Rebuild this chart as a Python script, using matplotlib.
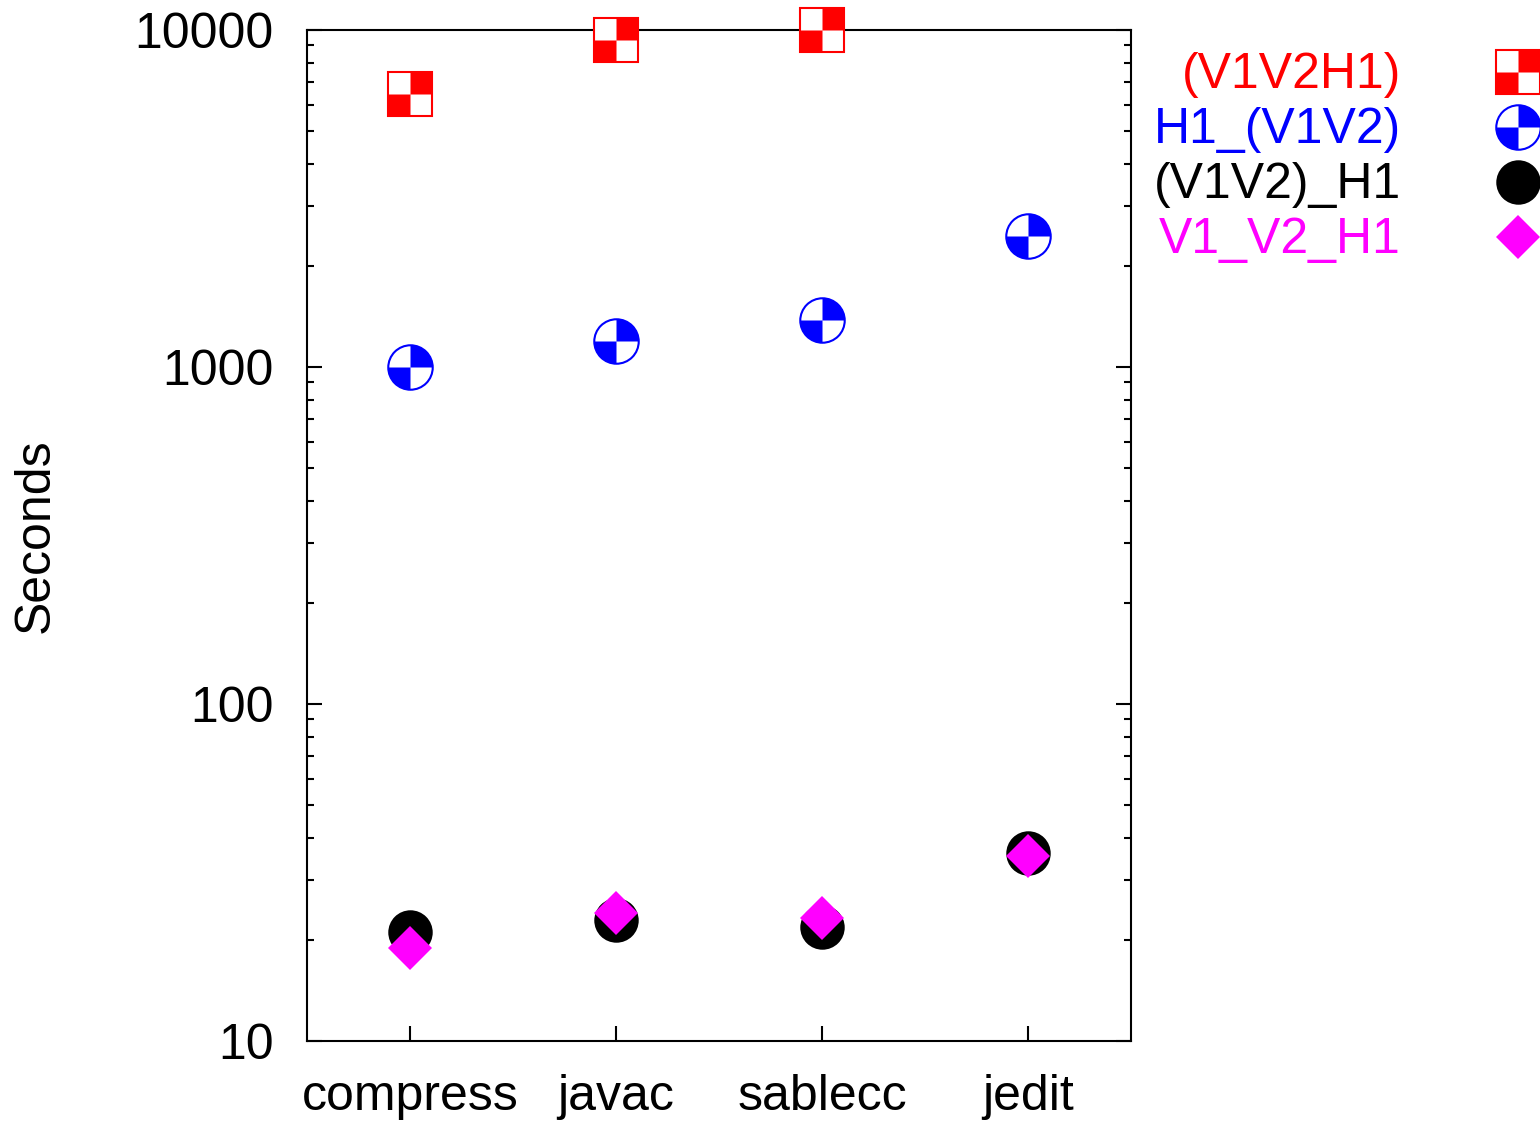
import matplotlib
matplotlib.use("Agg")
import matplotlib.pyplot as plt
from matplotlib.path import Path
from matplotlib.lines import Line2D
from matplotlib import ticker

plt.rcParams['font.family'] = ['Liberation Sans', 'DejaVu Sans']

benchmarks = ['compress', 'javac', 'sablecc', 'jedit']
v1v2h1 = [6450, 9340, 10000, None]
h1_v1v2 = [1000, 1194, 1377, 2448]
v1v2_h1 = [21.0, 22.9, 21.8, 36.2]
v1_v2_h1 = [18.9, 24.0, 23.2, 35.4]

labels = ['(V1V2H1)', 'H1_(V1V2)', '(V1V2)_H1', 'V1_V2_H1']
yticks = [10, 100, 1000, 10000]

# quarter-filled markers (top-right + bottom-left)
sq_quarters = Path.make_compound_path(
    Path([(0, 0), (1, 0), (1, 1), (0, 1), (0, 0)], closed=True),
    Path([(-1, -1), (0, -1), (0, 0), (-1, 0), (-1, -1)], closed=True))
circ_quarters = Path.make_compound_path(Path.wedge(0, 90), Path.wedge(180, 270))

MS = 32
styles = [
    dict(base=dict(marker='s', ms=MS, mfc='white', mec='red', mew=1.5),
         over=dict(marker=sq_quarters, ms=MS, mfc='red', mec='none')),
    dict(base=dict(marker='o', ms=MS, mfc='white', mec='blue', mew=1.5),
         over=dict(marker=circ_quarters, ms=MS, mfc='blue', mec='none')),
    dict(base=dict(marker='o', ms=MS, mfc='black', mec='black', mew=0), over=None),
    dict(base=dict(marker='D', ms=22, mfc='magenta', mec='magenta', mew=0), over=None),
]
colors = ['red', 'blue', 'black', 'magenta']

fig = plt.figure(figsize=(15.4, 11.23), dpi=100)
ax = fig.add_axes([307/1540, 1-1041/1123, (1131-307)/1540, (1041-30)/1123])

x = [1, 2, 3, 4]
for series, st in zip([v1v2h1, h1_v1v2, v1v2_h1, v1_v2_h1], styles):
    xs = [xi for xi, v in zip(x, series) if v is not None]
    ys = [v for v in series if v is not None]
    ax.plot(xs, ys, ls='none', clip_on=False, zorder=3, **st['base'])
    if st['over']:
        ax.plot(xs, ys, ls='none', clip_on=False, zorder=4, **st['over'])

ax.set_yscale('log')
ax.set_ylim(10, 10000)
ax.set_xlim(0.5, 4.5)
ax.set_xticks(x)
ax.set_xticklabels(benchmarks)
ax.set_yticks(yticks)
ax.yaxis.set_major_formatter(ticker.FuncFormatter(lambda v, p: '%d' % v))
ax.yaxis.set_minor_formatter(ticker.NullFormatter())
ax.tick_params(axis='both', which='major', direction='in', length=11, width=1.5,
               labelsize=36)
ax.tick_params(axis='y', which='both', right=True, direction='in')
ax.tick_params(axis='y', which='major', pad=24)
ax.tick_params(axis='y', which='minor', length=5, width=1.5)
ax.tick_params(axis='x', which='major', pad=24)
ax.tick_params(axis='x', which='minor', bottom=False)
for s in ax.spines.values():
    s.set_linewidth(1.5)
ax.set_ylabel('Seconds', fontsize=36)
ax.yaxis.set_label_coords(-248/824, 0.5)

# legend drawn outside the axes, gnuplot style
leg_y = [72, 127, 182, 237]
for lab, c, st, yy in zip(labels, colors, styles, leg_y):
    fy = 1 - yy / 1123
    fig.text(1401/1540, fy - 3/1123, lab, color=c, fontsize=36, ha='right', va='center')
    fig.add_artist(Line2D([1518/1540], [fy], transform=fig.transFigure, ls='none', **st['base']))
    if st['over']:
        fig.add_artist(Line2D([1518/1540], [fy], transform=fig.transFigure, ls='none', **st['over']))

fig.savefig('out.png', dpi=100)
